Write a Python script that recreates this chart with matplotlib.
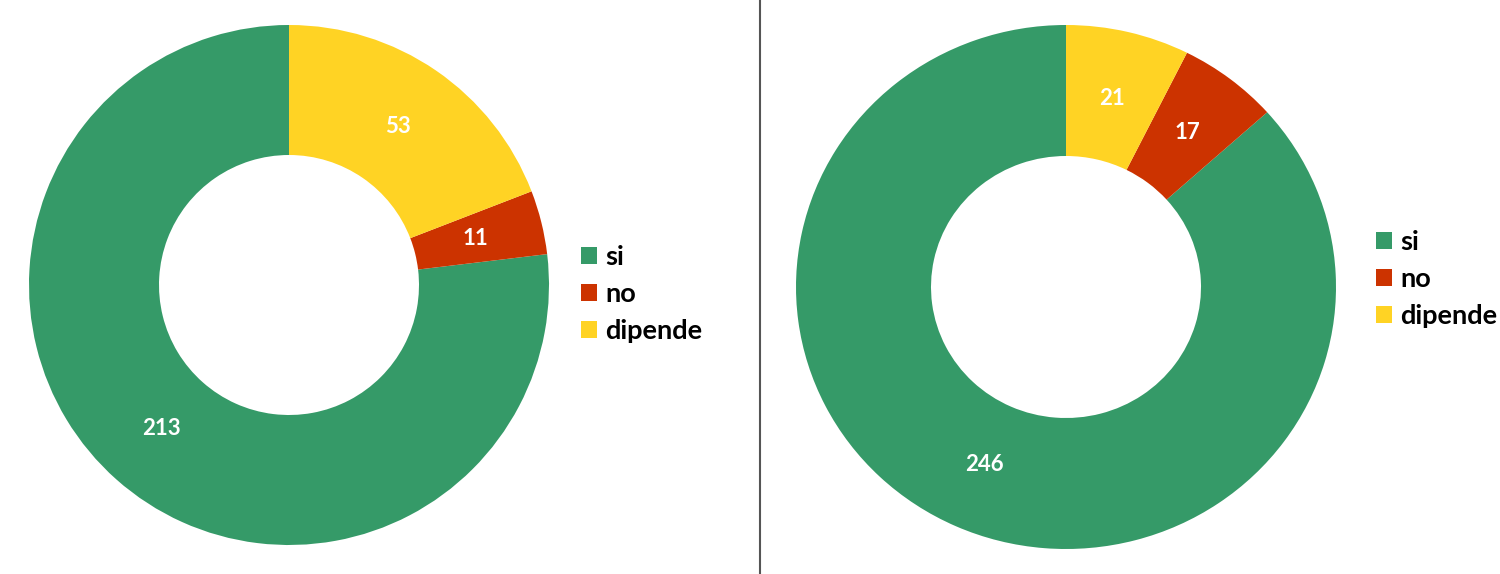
import matplotlib
matplotlib.use("Agg")
import matplotlib.pyplot as plt
from matplotlib.lines import Line2D

labels = ["si", "no", "dipende"]
left_values = [213, 11, 53]
right_values = [246, 17, 21]
colors = ["#359A68", "#CC3300", "#FFD324"]

plt.rcParams["font.family"] = ["Lato", "DejaVu Sans"]

W, H = 1500, 574
fig = plt.figure(figsize=(W / 100, H / 100), dpi=100)


def px_axes(x0, y0, x1, y1):
    # box given in image pixels, y from top
    return fig.add_axes([x0 / W, 1 - y1 / H, (x1 - x0) / W, (y1 - y0) / H])


def donut(ax, values):
    wedges, _, _ = ax.pie(
        values, colors=colors, startangle=90, counterclock=True,
        radius=1, frame=True,
        autopct=lambda p: f"{round(p * sum(values) / 100):d}",
        pctdistance=0.74,
        wedgeprops=dict(width=0.5, edgecolor="none"),
        textprops=dict(color="white", fontsize=16, fontweight="bold"))
    ax.set_xlim(-1, 1)
    ax.set_ylim(-1, 1)
    ax.set_aspect("auto")
    ax.axis("off")
    return wedges


ax_l = px_axes(29, 25, 549, 545)
ax_r = px_axes(796, 25, 1336, 549)
w_left = donut(ax_l, left_values)
w_right = donut(ax_r, right_values)

legend_kw = dict(frameon=False, loc="center left", borderpad=0, borderaxespad=0,
                 handlelength=0.6, handleheight=0.6, handletextpad=0.3,
                 labelspacing=0.48, prop=dict(size=19.5, weight="bold"))
fig.legend(w_left, labels, bbox_to_anchor=(581 / W, 1 - 294 / H), **legend_kw)
fig.legend(w_right, labels, bbox_to_anchor=(1376 / W, 1 - 279 / H), **legend_kw)

fig.add_artist(Line2D([760 / W, 760 / W], [0, 1], transform=fig.transFigure,
                      color="#555555", lw=1.5))

fig.savefig("out.png", dpi=100, facecolor="white")
